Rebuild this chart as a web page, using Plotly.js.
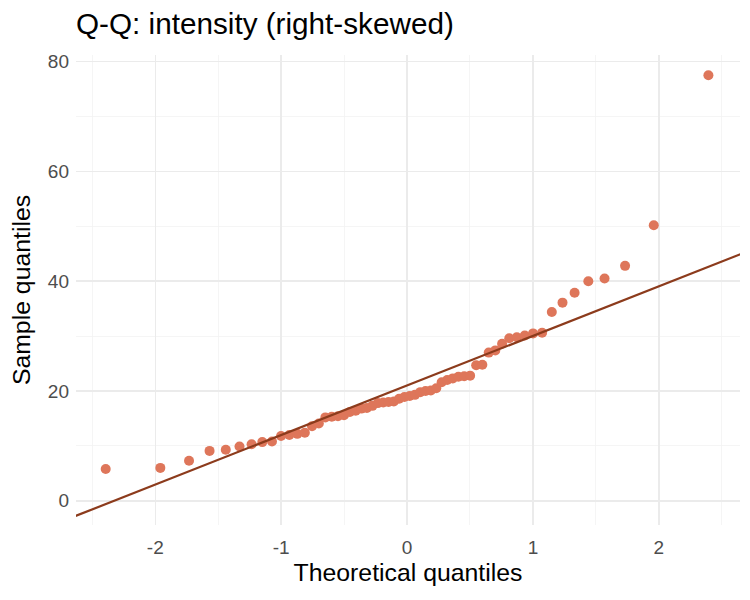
<!DOCTYPE html>
<html>
<head>
<meta charset="utf-8">
<script src="https://cdn.plot.ly/plotly-3.0.1.min.js"></script>
<style>
  html, body { margin: 0; padding: 0; background: #ffffff; }
  #chart { width: 750px; height: 600px; }
</style>
</head>
<body>
<div id="chart"></div>
<script>
// Theoretical normal quantiles for n = 60, p = (i - 0.5) / 60
const theoretical = [
  -2.394, -1.960, -1.732, -1.569, -1.440, -1.331, -1.235, -1.150, -1.073, -1.001,
  -0.935, -0.872, -0.812, -0.755, -0.701, -0.649, -0.598, -0.549, -0.501, -0.454,
  -0.408, -0.363, -0.319, -0.275, -0.232, -0.189, -0.147, -0.105, -0.063, -0.021,
   0.021,  0.063,  0.105,  0.147,  0.189,  0.232,  0.275,  0.319,  0.363,  0.408,
   0.454,  0.501,  0.549,  0.598,  0.649,  0.701,  0.755,  0.812,  0.872,  0.935,
   1.001,  1.073,  1.150,  1.235,  1.331,  1.440,  1.569,  1.732,  1.960,  2.394
];

// Sorted intensity sample
const intensity = [
   5.8,  6.0,  7.3,  9.1,  9.3,  9.9, 10.3, 10.7, 10.8, 11.8,
  12.0, 12.2, 12.4, 13.6, 14.1, 15.2, 15.3, 15.4, 15.6, 16.2,
  16.4, 16.8, 16.9, 17.3, 17.8, 17.9, 18.0, 18.1, 18.6, 18.9,
  19.1, 19.3, 19.8, 20.0, 20.1, 20.5, 21.6, 22.0, 22.3, 22.6,
  22.7, 22.8, 24.7, 24.8, 27.0, 27.4, 28.6, 29.6, 29.8, 30.1,
  30.5, 30.6, 34.4, 36.1, 37.9, 40.0, 40.5, 42.8, 50.2, 77.5
];

// Axis ticks (hyphen-minus labels)
const xTickVals = [-2, -1, 0, 1, 2];
const xTickText = ['-2', '-1', '0', '1', '2'];
const yTickVals = [0, 20, 40, 60, 80];
const yTickText = ['0', '20', '40', '60', '80'];

// Reference line through the first and third quartiles (type-7 quantiles)
function quantile(sorted, p) {
  const h = (sorted.length - 1) * p;
  const lo = Math.floor(h);
  const hi = Math.min(lo + 1, sorted.length - 1);
  return sorted[lo] + (h - lo) * (sorted[hi] - sorted[lo]);
}
const zq = 0.6744898;
const q1 = quantile(intensity, 0.25);
const q3 = quantile(intensity, 0.75);
const slope = (q3 - q1) / (2 * zq);
const intercept = q1 + slope * zq;
const lineX = [-3, 3];
const lineY = lineX.map(x => intercept + slope * x);

const pointColor = '#de765a';
const lineColor = '#8c3b1c';
const gridMajor = '#ebebeb';
const gridMinor = '#f3f3f3';
const font = 'Liberation Sans, Arial, sans-serif';

const traces = [
  {
    x: theoretical, y: intensity,
    type: 'scatter', mode: 'markers',
    marker: { color: pointColor, size: 10, line: { width: 0 } },
    hoverinfo: 'x+y'
  },
  {
    x: lineX, y: lineY,
    type: 'scatter', mode: 'lines',
    line: { color: lineColor, width: 2.2 },
    hoverinfo: 'skip'
  }
];

const layout = {
  width: 750, height: 600,
  paper_bgcolor: '#ffffff', plot_bgcolor: '#ffffff',
  showlegend: false,
  margin: { l: 76, r: 10, t: 55, b: 75 },
  font: { family: font, color: '#000000' },
  title: {
    text: 'Q-Q: intensity (right-skewed)',
    font: { family: font, size: 29.7, color: '#000000' },
    xref: 'container', yref: 'container',
    x: 76 / 750, xanchor: 'left',
    y: 1 - 24 / 600, yanchor: 'middle'
  },
  xaxis: {
    range: [-2.63, 2.645],
    tickmode: 'array', tickvals: xTickVals, ticktext: xTickText,
    showgrid: true, gridcolor: gridMajor, gridwidth: 1.6,
    minor: { tickmode: 'linear', tick0: 0.5, dtick: 1, showgrid: true, gridcolor: gridMinor, gridwidth: 0.8 },
    zeroline: false, showline: false, ticks: '',
    ticklabelstandoff: 9,
    tickfont: { family: font, size: 19, color: '#4d4d4d' },
    title: { text: 'Theoretical quantiles', font: { family: font, size: 24.8, color: '#000000' }, standoff: 6 }
  },
  yaxis: {
    range: [-4.4, 81.2],
    tickmode: 'array', tickvals: yTickVals, ticktext: yTickText,
    showgrid: true, gridcolor: gridMajor, gridwidth: 1.6,
    minor: { tickmode: 'linear', tick0: 10, dtick: 20, showgrid: true, gridcolor: gridMinor, gridwidth: 0.8 },
    zeroline: false, showline: false, ticks: '',
    ticklabelstandoff: 6,
    tickfont: { family: font, size: 19, color: '#4d4d4d' },
    title: { text: 'Sample quantiles', font: { family: font, size: 24.8, color: '#000000' }, standoff: 10 }
  }
};

Plotly.newPlot('chart', traces, layout, { displayModeBar: false, staticPlot: true });
</script>
</body>
</html>
